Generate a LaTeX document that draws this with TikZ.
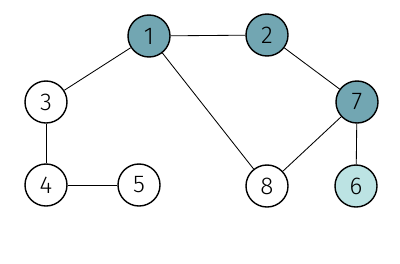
\documentclass[tikz,border=0pt]{standalone}
\usepackage{fontspec}
\setmainfont{Fira Sans Light}
\definecolor{grTeal}{HTML}{72A6B2}
\definecolor{grAgua}{HTML}{BCE3E3}
\usetikzlibrary{positioning}

\begin{document}
\begin{tikzpicture}[x=0.025cm, y=-0.025cm,
      v/.style={circle, draw=black, line width=1pt, fill=#1, minimum size=1.05cm,
                inner sep=0pt, font=\LARGE},
      v/.default=white,
      e/.style={draw=black, semithick}]
    \useasboundingbox (0,0) rectangle (400,263);
    \node[v=grTeal] (n1) at (149,36)  {1};
    \node[v=grTeal] (n2) at (267,35)  {2};
    \node[v]        (n3) at (46,102)  {3};
    \node[v=grTeal] (n7) at (357,102) {7};
    \node[v]        (n4) at (46,185)  {4};
    \node[v]        (n5) at (139,185) {5};
    \node[v]        (n8) at (267,186) {8};
    \node[v=grAgua] (n6) at (356,186) {6};
    \draw[e] (n1) -- (n2);
    \draw[e] (n1) -- (n3);
    \draw[e] (n1) -- (n8);
    \draw[e] (n2) -- (n7);
    \draw[e] (n7) -- (n8);
    \draw[e] (n7) -- (n6);
    \draw[e] (n3) -- (n4);
    \draw[e] (n4) -- (n5);
  \end{tikzpicture}
\end{document}
